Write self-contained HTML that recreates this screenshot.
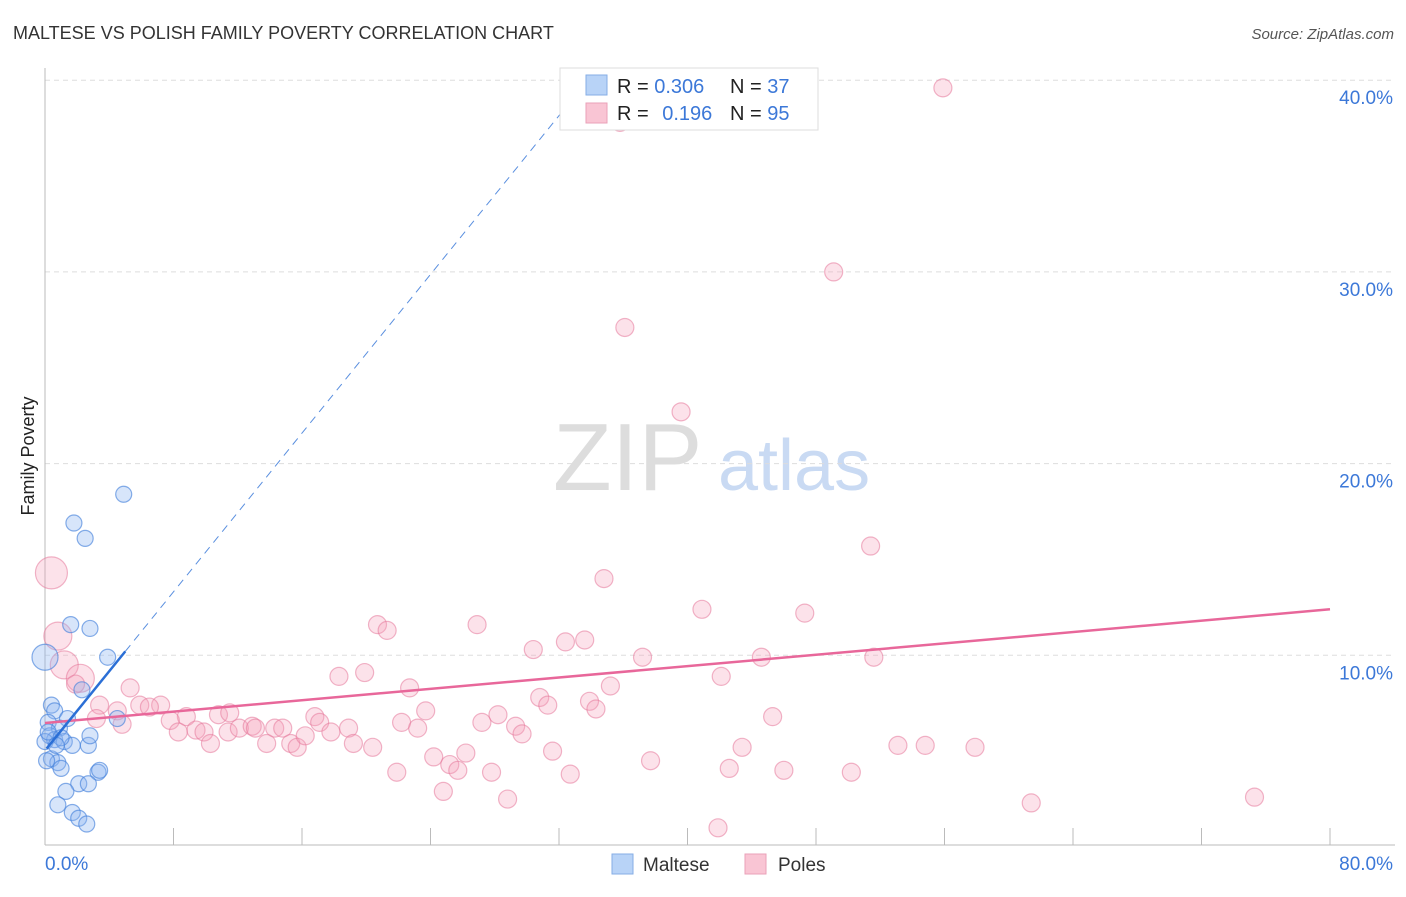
<!DOCTYPE html>
<html><head><meta charset="utf-8"><style>
body{margin:0;background:#fff;font-family:"Liberation Sans",sans-serif}
svg text{font-family:"Liberation Sans",sans-serif}
</style></head><body>
<svg id="chart" width="1406" height="892" xmlns="http://www.w3.org/2000/svg">
<text x="13" y="39" font-size="18" fill="#333">MALTESE VS POLISH FAMILY POVERTY CORRELATION CHART</text>
<text x="1394" y="39" font-size="15" fill="#555" font-style="italic" text-anchor="end">Source: ZipAtlas.com</text>
<text x="34" y="456" font-size="18" fill="#222" text-anchor="middle" transform="rotate(-90 34 456)">Family Poverty</text>
<text x="553" y="490" font-size="96" fill="#ddd" font-family="Liberation Serif">ZIP</text>
<text x="718" y="490" font-size="72" fill="#c9daf3">atlas</text>
<g id="grid"></g><g id="pts"></g><g id="lines"></g>
<g>
<rect x="560" y="68" width="258" height="62" fill="#fff" stroke="#ddd"/>
<rect x="586" y="75" width="21" height="20" fill="#b8d3f7" stroke="#86aee6"/>
<rect x="586" y="103" width="21" height="20" fill="#f9c5d4" stroke="#eaa1b8"/>
<text x="617" y="93" font-size="20" fill="#222">R = <tspan fill="#3c78d8">0.306</tspan></text>
<text x="730" y="93" font-size="20" fill="#222">N = <tspan fill="#3c78d8">37</tspan></text>
<text x="617" y="120" font-size="20" fill="#222">R = <tspan fill="#3c78d8" dx="8">0.196</tspan></text>
<text x="730" y="120" font-size="20" fill="#222">N = <tspan fill="#3c78d8">95</tspan></text>
</g>
<g>
<rect x="612" y="854" width="21" height="20" fill="#b8d3f7" stroke="#86aee6"/>
<text x="643" y="871" font-size="19" fill="#333">Maltese</text>
<rect x="745" y="854" width="21" height="20" fill="#f9c5d4" stroke="#eaa1b8"/>
<text x="778" y="871" font-size="19" fill="#333">Poles</text>
</g>
</svg>
<script>
const yTicks=[10,20,30,40];
const xLabels=["0.0%","80.0%"];
const malteseX=[4.9,1.8,2.5,1.6,2.8,3.9,0.0,0.4,2.3,0.6,0.2,1.4,0.9,0.3,0.6,1.2,2.7,1.7,2.8,4.5,0.4,0.8,1.0,3.3,2.1,2.7,1.3,0.8,1.7,2.1,2.6,3.4,0.0,0.2,1.0,0.7,0.1];
const malteseY=[18.4,16.9,16.1,11.6,11.4,9.9,9.9,7.4,8.2,7.1,6.5,6.7,6.2,5.8,5.6,5.5,5.3,5.3,5.8,6.7,4.6,4.4,4.1,3.9,3.3,3.3,2.9,2.2,1.8,1.5,1.2,4.0,5.5,6.0,5.7,5.3,4.5];
const polesX=[55.9,35.8,49.1,36.1,39.6,51.4,0.4,34.8,40.9,47.3,20.7,21.3,26.9,33.6,32.4,30.4,37.2,0.8,1.2,2.2,1.9,44.6,51.6,19.9,18.3,22.7,35.2,42.1,5.3,3.4,5.9,7.2,6.5,4.5,8.8,10.8,3.2,7.8,4.8,16.8,23.7,28.2,30.8,31.3,33.9,34.3,45.3,8.3,9.4,9.9,11.4,12.1,12.9,14.3,14.8,17.1,17.8,18.9,22.2,23.2,27.2,29.3,29.7,10.3,13.8,15.3,15.7,19.2,20.4,31.6,43.4,53.1,54.8,57.9,24.2,26.2,25.2,25.7,27.8,21.9,32.7,37.7,42.6,46.0,50.2,24.8,28.8,61.4,75.3,41.9,16.2,11.5,13.1];
const polesY=[39.6,37.8,30.0,27.1,22.7,15.7,14.3,14.0,12.4,12.2,11.6,11.3,11.6,10.8,10.7,10.3,9.9,11.0,9.5,8.8,8.5,9.9,9.9,9.1,8.9,8.3,8.4,8.9,8.3,7.4,7.4,7.4,7.3,7.1,6.8,6.9,6.7,6.6,6.4,6.8,7.1,6.9,7.8,7.4,7.6,7.2,6.8,6.0,6.1,6.0,6.0,6.2,6.3,6.2,6.2,6.5,6.0,6.2,6.5,6.2,6.5,6.3,5.9,5.4,5.4,5.4,5.2,5.4,5.2,5.0,5.2,5.3,5.3,5.2,4.7,4.9,4.3,4.0,3.9,3.9,3.8,4.5,4.1,4.0,3.9,2.9,2.5,2.3,2.6,1.0,5.8,7.0,6.2];
const polesR=polesX.map((x,i)=>i==6?16:(i>=17&&i<=19?14:9));
const malteseR=malteseX.map((x,i)=>i==6?13:8);
const X=v=>45+v/80*1285, Y=v=>847-v*19.17;
const NS="http://www.w3.org/2000/svg";
function mk(t,a,p){const e=document.createElementNS(NS,t);for(const k in a)e.setAttribute(k,a[k]);document.getElementById(p).appendChild(e);return e;}
yTicks.forEach(t=>{
 const l=mk('line',{x1:45,x2:1395,y1:Y(t),y2:Y(t),stroke:'#ddd','stroke-dasharray':'5,4'},'grid');
 
 
 const tx=mk('text',{x:1393,y:Y(t)+24,'font-size':19,fill:'#3c78d8','text-anchor':'end'},'grid');tx.textContent=t.toFixed(1)+'%';
 
 
});
for(let i=1;i<=10;i++){const l=mk('line',{x1:X(i*8),x2:X(i*8),y1:828,y2:845,stroke:'#bbb'},'grid');
 
 }
const ax=mk('line',{x1:45,x2:1395,y1:845,y2:845,stroke:'#bbb'},'grid');


const ay=mk('line',{x1:45,x2:45,y1:68,y2:845,stroke:'#bbb'},'grid');


const t0=mk('text',{x:45,y:870,'font-size':19,fill:'#3c78d8'},'grid');t0.textContent=xLabels[0];


const t1=mk('text',{x:1393,y:870,'font-size':19,fill:'#3c78d8','text-anchor':'end'},'grid');t1.textContent=xLabels[1];


polesX.forEach((x,i)=>{const c=mk('circle',{cx:X(x),cy:Y(polesY[i]),r:polesR[i],fill:'rgba(244,160,187,0.3)',stroke:'rgba(230,120,155,0.55)','stroke-width':1.2},'pts');
 
 });
malteseX.forEach((x,i)=>{const c=mk('circle',{cx:X(x),cy:Y(malteseY[i]),r:malteseR[i],fill:'rgba(140,180,240,0.35)',stroke:'rgba(70,130,220,0.65)','stroke-width':1.2},'pts');
 
 });
const pl=mk('line',{x1:X(0),y1:Y(6.47),x2:X(80),y2:Y(12.4),stroke:'#e8679a','stroke-width':2.5},'lines');


const bf=v=>5.03+1.035*v;
const bs=mk('line',{x1:X(0.1),y1:Y(bf(0.1)),x2:X(5),y2:Y(bf(5)),stroke:'#2b6fd6','stroke-width':2.5},'lines');


const bd=mk('line',{x1:X(5),y1:Y(bf(5)),x2:X(33.8),y2:Y(bf(33.8)),stroke:'#5a8fdf','stroke-width':1,'stroke-dasharray':'8,6'},'lines');


</script>
</body></html>
